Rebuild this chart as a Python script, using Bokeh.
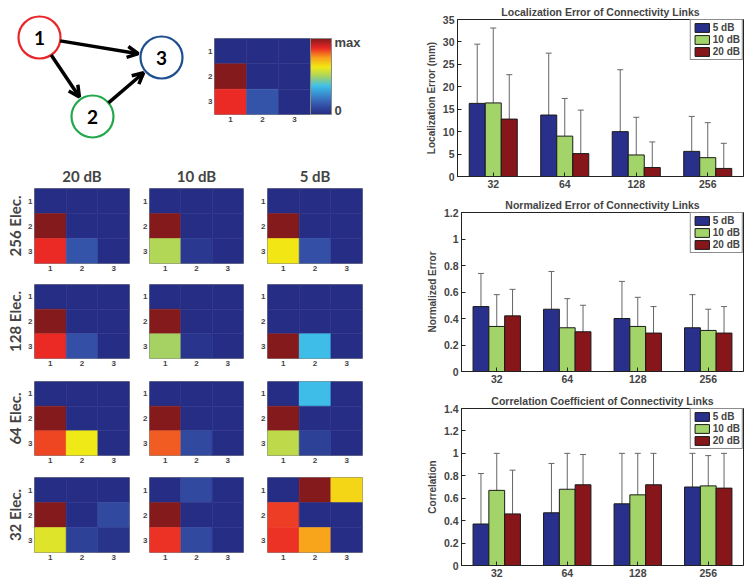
import numpy as np
from bokeh.plotting import figure
from bokeh.layouts import row, column
from bokeh.models import (Range1d, FixedTicker, LinearColorMapper, ColorBar, Arrow, OpenHead,
                          Whisker, TeeHead, ColumnDataSource, Legend, LegendItem, Spacer)
from bokeh.embed import file_html
from bokeh.resources import INLINE
from bokeh.core.properties import value

# ------------------------------------------------------------------ data
electrodes = ["32", "64", "128", "256"]
snr_series = ["5 dB", "10 dB", "20 dB"]

# Localization error (mm): bar height and top of error bar
loc_5 = [16.3, 13.7, 10.0, 5.6]
loc_10 = [16.4, 9.0, 4.8, 4.2]
loc_20 = [12.8, 5.1, 2.0, 1.8]
loc_hi_5 = [29.5, 27.5, 23.8, 13.4]
loc_hi_10 = [33.1, 17.4, 13.2, 12.0]
loc_hi_20 = [22.7, 14.8, 7.7, 7.4]

# Normalized error: mean, lower, upper
nrm_5 = [0.49, 0.47, 0.40, 0.33]
nrm_10 = [0.34, 0.33, 0.34, 0.31]
nrm_20 = [0.42, 0.30, 0.29, 0.29]
nrm_lo_5 = [0.24, 0.19, 0.12, 0.08]
nrm_lo_10 = [0.10, 0.115, 0.12, 0.15]
nrm_lo_20 = [0.22, 0.10, 0.095, 0.09]
nrm_hi_5 = [0.74, 0.755, 0.68, 0.58]
nrm_hi_10 = [0.58, 0.55, 0.56, 0.47]
nrm_hi_20 = [0.62, 0.50, 0.49, 0.49]

# Correlation coefficient: mean, lower, upper
cor_5 = [0.37, 0.47, 0.55, 0.70]
cor_10 = [0.67, 0.68, 0.63, 0.71]
cor_20 = [0.46, 0.72, 0.72, 0.69]
cor_lo_5 = [0.0, 0.03, 0.09, 0.36]
cor_lo_10 = [0.33, 0.33, 0.25, 0.44]
cor_lo_20 = [0.06, 0.45, 0.36, 0.30]
cor_hi_5 = [0.82, 0.91, 1.0, 1.0]
cor_hi_10 = [1.0, 1.0, 1.0, 0.98]
cor_hi_20 = [0.85, 0.99, 1.0, 1.0]

loc_ticks = [0, 5, 10, 15, 20, 25, 30, 35]
loc_tick_labels = ["0", "5", "10", "15", "20", "25", "30", "35"]
nrm_ticks = [0, 0.2, 0.4, 0.6, 0.8, 1, 1.2]
nrm_tick_labels = ["0", "0.2", "0.4", "0.6", "0.8", "1", "1.2"]
cor_ticks = [0, 0.2, 0.4, 0.6, 0.8, 1, 1.2, 1.4]
cor_tick_labels = ["0", "0.2", "0.4", "0.6", "0.8", "1", "1.2", "1.4"]

# network diagram
node_names = ["1", "2", "3"]
node_x = [3.9, 9.2, 16.1]
node_y = [11.3, 3.4, 9.3]
node_colors = ["#e8262a", "#22a84a", "#1f4f8f"]
edges_from = [0, 0, 1]
edges_to = [2, 1, 2]

# connectivity matrices (row = target, col = source), normalized 0..max
true_conn = [[0, 0, 0], [1.0, 0, 0], [0.87, 0.13, 0]]

rows_labels = ["256 Elec.", "128 Elec.", "64 Elec.", "32 Elec."]
cols_labels = ["20 dB", "10 dB", "5 dB"]

m256_20 = [[0, 0, 0], [1.0, 0, 0], [0.87, 0.13, 0]]
m256_10 = [[0, 0, 0], [1.0, 0, 0], [0.52, 0.04, 0]]
m256_5 = [[0, 0, 0], [1.0, 0, 0], [0.63, 0.12, 0]]
m128_20 = [[0, 0, 0], [1.0, 0, 0], [0.87, 0.12, 0]]
m128_10 = [[0, 0, 0], [1.0, 0, 0], [0.50, 0.03, 0]]
m128_5 = [[0, 0, 0], [0, 0, 0], [1.0, 0.37, 0]]
m64_20 = [[0, 0, 0], [1.0, 0, 0], [0.84, 0.62, 0]]
m64_10 = [[0, 0, 0], [1.0, 0, 0], [0.82, 0.10, 0]]
m64_5 = [[0, 0.37, 0], [1.0, 0, 0], [0.54, 0.07, 0]]
m32_20 = [[0, 0, 0], [1.0, 0, 0.10], [0.59, 0.07, 0.02]]
m32_10 = [[0, 0.10, 0], [1.0, 0, 0], [0.86, 0.10, 0]]
m32_5 = [[0, 1.0, 0.66], [0.85, 0, 0], [0.86, 0.74, 0]]

grid_mats = [[m256_20, m256_10, m256_5],
             [m128_20, m128_10, m128_5],
             [m64_20, m64_10, m64_5],
             [m32_20, m32_10, m32_5]]

# ------------------------------------------------------------------ styles
BAR_COLORS = ["#28308c", "#a3d469", "#861619"]
ERR_COLOR = "#666666"
TXT = "Liberation Sans"
HDR = "Lato"

anchor_pos = [0.0, 0.125, 0.25, 0.375, 0.5, 0.625, 0.75, 0.875, 1.0]
anchor_col = ["#262d84", "#3452a8", "#3a88cc", "#3dc0ea", "#a5d264",
              "#f2ea14", "#f8a01c", "#eb2626", "#841a1c"]


def _rgb(h):
    return [int(h[i:i + 2], 16) for i in (1, 3, 5)]


_anc = np.array([_rgb(c) for c in anchor_col], dtype=float)
_t = np.linspace(0, 1, 256)
palette = []
for t in _t:
    rgb = [np.interp(t, anchor_pos, _anc[:, k]) for k in range(3)]
    palette.append("#%02x%02x%02x" % tuple(int(round(v)) for v in rgb))
mapper = LinearColorMapper(palette=palette, low=0, high=1)


def base_fig(w, h, xr, yr, lb, rb, tb, bb):
    p = figure(width=w, height=h, x_range=xr, y_range=yr, output_backend="svg",
               toolbar_location=None, min_border_left=lb, min_border_right=rb,
               min_border_top=tb, min_border_bottom=bb)
    p.grid.visible = False
    p.background_fill_color = "white"
    p.border_fill_color = "white"
    return p


def heat(mat, w, h, lb, rb, tb, bb, title=None, ylabel=None):
    p = base_fig(w, h, Range1d(0.5, 3.5), Range1d(3.5, 0.5), lb, rb, tb, bb)
    xs, ys, vs = [], [], []
    for i in range(3):
        for j in range(3):
            xs.append(j + 1)
            ys.append(i + 1)
            vs.append(mat[i][j])
    src = ColumnDataSource(dict(x=xs, y=ys, v=vs))
    p.rect("x", "y", 1, 1, source=src,
           fill_color={"field": "v", "transform": mapper},
           line_color={"field": "v", "transform": mapper}, line_width=0.5)
    for ax in (p.xaxis, p.yaxis):
        ax.ticker = FixedTicker(ticks=[1, 2, 3])
        ax.major_label_text_font = TXT
        ax.major_label_text_font_style = "bold"
        ax.major_label_text_font_size = "8px"
        ax.major_label_standoff = 2
        ax.major_tick_in = 0
        ax.major_tick_out = 0
        ax.minor_tick_in = 0
        ax.minor_tick_out = 0
        ax.major_tick_line_color = None
        ax.minor_tick_line_color = None
        ax.axis_line_color = None
    p.outline_line_color = "#8a8a8a"
    if title is not None:
        p.title.text = title
        p.title.align = "center"
        p.title.text_font = HDR
        p.title.text_font_style = "bold"
        p.title.text_font_size = "15px"
        p.title.standoff = 8
    if ylabel is not None:
        p.yaxis.axis_label = ylabel
        p.yaxis.axis_label_text_font = HDR
        p.yaxis.axis_label_text_font_style = "bold"
        p.yaxis.axis_label_text_font_size = "15px"
        p.yaxis.axis_label_standoff = 1
    return p


# ------------------------------------------------------------------ diagram
diag = base_fig(200, 150, Range1d(0, 20), Range1d(0, 15), 0, 0, 0, 0)
diag.axis.visible = False
diag.outline_line_color = None
R = 2.1
nx = np.array(node_x)
ny = np.array(node_y)
fx, fy = nx[edges_from], ny[edges_from]
tx, ty = nx[edges_to], ny[edges_to]
d = np.hypot(tx - fx, ty - fy)
ux, uy = (tx - fx) / d, (ty - fy) / d
asrc = ColumnDataSource(dict(x0=fx + ux * R, y0=fy + uy * R,
                             x1=tx - ux * (R + 0.25), y1=ty - uy * (R + 0.25)))
diag.add_layout(Arrow(source=asrc, x_start="x0", y_start="y0", x_end="x1", y_end="y1",
                      line_width=3.5, line_color="black",
                      end=OpenHead(size=11, line_width=3.5, line_color="black")))
diag.circle(x=node_x, y=node_y, radius=R, fill_color="white", line_color=node_colors,
            line_width=2.2)
diag.text(x=node_x, y=node_y, text=node_names, text_align="center", text_baseline="middle",
          text_font=value(HDR), text_font_style="bold", text_font_size="19px", text_color="black")

# reference matrix with colorbar
ref = heat(true_conn, 170, 150, 14, 60, 38, 36)
cb = ColorBar(color_mapper=mapper, ticker=FixedTicker(ticks=[0.05, 0.95]),
              major_label_overrides={0.05: "0", 0.95: "max"},
              width=21, height=76, margin=8, padding=0, label_standoff=3,
              major_label_text_font=TXT, major_label_text_font_style="bold",
              major_label_text_font_size="13px", major_tick_line_color=None,
              bar_line_color="#8a8a8a", location="top_left")
ref.add_layout(cb, "right")

# ------------------------------------------------------------------ grid of matrices
col_w = [139, 118, 113]
col_lb = [34, 10, 10]
col_rb = [10, 14, 8]
row_h = [126, 95, 97, 97]
row_tb = [38, 8, 10, 9]
row_bb = [13, 13, 13, 13]

grid_rows = []
for r in range(4):
    figs = []
    for c in range(3):
        figs.append(heat(grid_mats[r][c], col_w[c], row_h[r], col_lb[c], col_rb[c],
                         row_tb[r], row_bb[r],
                         title=cols_labels[c] if r == 0 else None,
                         ylabel=rows_labels[r] if c == 0 else None))
    grid_rows.append(row(*figs))

left_col = column(row(column(diag), column(ref)), *grid_rows, Spacer(width=370, height=20))


# ------------------------------------------------------------------ bar charts
def bar_chart(title, ylabel, ymax, ticks, tick_labels, means, lows, highs, h, lb, tb, bb,
              show_lower=True):
    p = base_fig(384, h, Range1d(0.5, 4.5), Range1d(0, ymax), lb, 11, tb, bb)
    offsets = [-0.224, 0.0, 0.224]
    items = []
    for k in range(3):
        xs = [i + 1 + offsets[k] for i in range(len(electrodes))]
        r = p.vbar(x=xs, top=means[k], width=0.224, fill_color=BAR_COLORS[k],
                   line_color="#1a1a1a", line_width=1)
        items.append(LegendItem(label=snr_series[k], renderers=[r]))
        wsrc = ColumnDataSource(dict(base=xs, lower=lows[k], upper=highs[k]))
        p.add_layout(Whisker(source=wsrc, base="base", lower="lower", upper="upper",
                             line_color=ERR_COLOR, line_width=1,
                             upper_head=TeeHead(size=6, line_color=ERR_COLOR, line_width=1),
                             lower_head=TeeHead(size=6, line_color=ERR_COLOR, line_width=1)
                             if show_lower else None))
    leg = Legend(items=items, location="top_right", margin=0, padding=2, spacing=1,
                 glyph_height=11, glyph_width=18, label_height=11, label_standoff=2,
                 label_text_font=TXT, label_text_font_style="bold", label_text_font_size="10px",
                 border_line_color="#1a1a1a", border_line_width=1, background_fill_alpha=1)
    p.add_layout(leg)
    p.xaxis.ticker = FixedTicker(ticks=[1, 2, 3, 4])
    p.xaxis.major_label_overrides = {i + 1: lab for i, lab in enumerate(electrodes)}
    p.yaxis.ticker = FixedTicker(ticks=ticks)
    p.yaxis.major_label_overrides = {t: lab for t, lab in zip(ticks, tick_labels)}
    for ax in (p.xaxis, p.yaxis):
        ax.major_label_text_font = TXT
        ax.major_label_text_font_style = "bold"
        ax.major_label_text_font_size = "10.5px"
        ax.major_label_standoff = 3
        ax.major_tick_in = 4
        ax.major_tick_out = 0
        ax.minor_tick_in = 0
        ax.minor_tick_out = 0
        ax.minor_tick_line_color = None
        ax.axis_line_color = "#222222"
        ax.major_tick_line_color = "#222222"
    p.yaxis.axis_label = ylabel
    p.yaxis.axis_label_text_font = TXT
    p.yaxis.axis_label_text_font_style = "bold"
    p.yaxis.axis_label_text_font_size = "10px"
    p.yaxis.axis_label_standoff = 3
    p.outline_line_color = "#222222"
    p.title.text = title
    p.title.align = "center"
    p.title.text_font = TXT
    p.title.text_font_style = "bold"
    p.title.text_font_size = "10.5px"
    p.title.standoff = 4
    return p


b1 = bar_chart("Localization Error of Connectivity Links", "Localization Error (mm)", 35,
               loc_ticks, loc_tick_labels, [loc_5, loc_10, loc_20], [loc_5, loc_10, loc_20],
               [loc_hi_5, loc_hi_10, loc_hi_20], 190, 87, 19, 13, show_lower=False)
b2 = bar_chart("Normalized Error of Connectivity Links", "Normalized Error", 1.2,
               nrm_ticks, nrm_tick_labels, [nrm_5, nrm_10, nrm_20],
               [nrm_lo_5, nrm_lo_10, nrm_lo_20], [nrm_hi_5, nrm_hi_10, nrm_hi_20],
               195, 91, 22, 14)
b3 = bar_chart("Correlation Coefficient of Connectivity Links", "Correlation", 1.4,
               cor_ticks, cor_tick_labels, [cor_5, cor_10, cor_20],
               [cor_lo_5, cor_lo_10, cor_lo_20], [cor_hi_5, cor_hi_10, cor_hi_20],
               200, 91, 23, 20)

right_col = column(row(b1), row(b2), row(b3))
layout = row(left_col, right_col)

open("out.html", "w").write(file_html(layout, INLINE))
